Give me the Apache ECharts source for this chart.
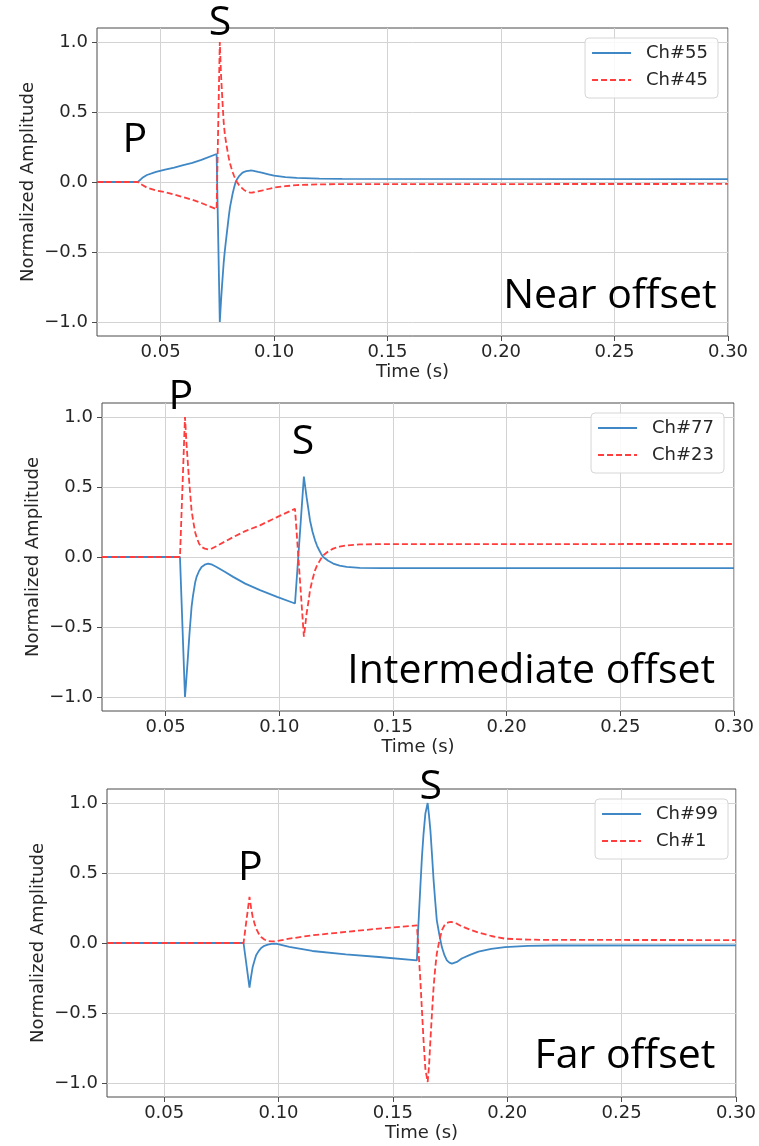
<!DOCTYPE html>
<html><head><meta charset="utf-8">
<script src="https://cdn.jsdelivr.net/npm/echarts@6/dist/echarts.min.js"></script>
<style>html,body{margin:0;padding:0;background:#fff}#c{width:759px;height:1146px}</style>
</head><body><div id="c"></div>
<script>
// ---------- Near offset ----------
const nearT = [0.022, 0.040, 0.042, 0.044, 0.048, 0.052, 0.056, 0.060, 0.064, 0.068, 0.0747, 0.0761, 0.0766, 0.0770, 0.0774, 0.0778, 0.0782, 0.0786, 0.0791, 0.0796, 0.0801, 0.0806, 0.0812, 0.0818, 0.0824, 0.0830, 0.0837, 0.0845, 0.0852, 0.0860, 0.0869, 0.0878, 0.0886, 0.0895, 0.0905, 0.0915, 0.0930, 0.0950, 0.0975, 0.100, 0.105, 0.110, 0.120, 0.130, 0.300];
const ch55 = [0, 0, 0.03, 0.05, 0.073, 0.088, 0.103, 0.12, 0.137, 0.158, 0.20, -1.0, -0.86, -0.76, -0.67, -0.58, -0.51, -0.45, -0.38, -0.31, -0.24, -0.18, -0.13, -0.08, -0.04, -0.005, 0.02, 0.04, 0.054, 0.065, 0.073, 0.078, 0.081, 0.082, 0.081, 0.078, 0.072, 0.065, 0.055, 0.045, 0.035, 0.029, 0.024, 0.022, 0.021];
const ch45 = [0, 0, -0.022, -0.04, -0.06, -0.073, -0.09, -0.108, -0.127, -0.15, -0.195, 1.0, 0.78, 0.66, 0.54, 0.43, 0.36, 0.31, 0.26, 0.21, 0.17, 0.133, 0.10, 0.07, 0.043, 0.02, -0.002, -0.02, -0.034, -0.045, -0.058, -0.068, -0.073, -0.076, -0.075, -0.072, -0.067, -0.06, -0.05, -0.04, -0.03, -0.022, -0.017, -0.015, -0.014];

// ---------- Intermediate offset ----------
const midT = [0.022, 0.0563, 0.0585, 0.0589, 0.0592, 0.0596, 0.0599, 0.0603, 0.0607, 0.0611, 0.0614, 0.0620, 0.0625, 0.0630, 0.0636, 0.0647, 0.0658, 0.0672, 0.0687, 0.0705, 0.0724, 0.076, 0.0797, 0.085, 0.0915, 0.099, 0.1069, 0.1108, 0.1114, 0.1120, 0.1128, 0.1135, 0.1146, 0.1157, 0.1166, 0.1175, 0.1184, 0.1193, 0.1215, 0.1237, 0.1265, 0.1296, 0.1354, 0.145, 0.300];
const ch77 = [0, 0, -1.0, -0.92, -0.85, -0.76, -0.688, -0.59, -0.50, -0.42, -0.356, -0.28, -0.23, -0.18, -0.142, -0.10, -0.071, -0.055, -0.047, -0.055, -0.071, -0.105, -0.142, -0.19, -0.237, -0.285, -0.332, 0.574, 0.50, 0.427, 0.34, 0.261, 0.18, 0.119, 0.08, 0.05, 0.022, 0.0, -0.027, -0.047, -0.062, -0.071, -0.078, -0.08, -0.08];
const ch23 = [0, 0, 1.0, 0.89, 0.80, 0.71, 0.64, 0.55, 0.47, 0.39, 0.332, 0.27, 0.22, 0.175, 0.142, 0.095, 0.071, 0.06, 0.055, 0.062, 0.078, 0.11, 0.142, 0.185, 0.226, 0.285, 0.344, -0.569, -0.49, -0.403, -0.32, -0.237, -0.16, -0.095, -0.06, -0.035, -0.01, 0.012, 0.04, 0.06, 0.074, 0.083, 0.09, 0.092, 0.093];

// ---------- Far offset ----------
const farT = [0.025, 0.0847, 0.0873, 0.0880, 0.0887, 0.0895, 0.0902, 0.0913, 0.0924, 0.0938, 0.0953, 0.0970, 0.0989, 0.1047, 0.1148, 0.1294, 0.1439, 0.1605, 0.1610, 0.1620, 0.1627, 0.1634, 0.1642, 0.1652, 0.1658, 0.1664, 0.1671, 0.1678, 0.1685, 0.1692, 0.1703, 0.1714, 0.1725, 0.1736, 0.1747, 0.1758, 0.1780, 0.1801, 0.1837, 0.1874, 0.1930, 0.1990, 0.2091, 0.220, 0.300];
const ch99 = [0, 0, -0.319, -0.24, -0.171, -0.125, -0.088, -0.058, -0.036, -0.02, -0.012, -0.006, -0.004, -0.028, -0.057, -0.081, -0.10, -0.124, 0.08, 0.40, 0.614, 0.78, 0.924, 1.0, 0.91, 0.805, 0.63, 0.448, 0.30, 0.162, 0.06, -0.029, -0.085, -0.124, -0.14, -0.147, -0.135, -0.111, -0.085, -0.062, -0.042, -0.029, -0.021, -0.018, -0.017];
const ch1 = [0, 0, 0.329, 0.25, 0.186, 0.14, 0.103, 0.068, 0.043, 0.025, 0.014, 0.012, 0.012, 0.031, 0.055, 0.079, 0.103, 0.126, 0.0, -0.266, -0.48, -0.695, -0.90, -0.993, -0.88, -0.695, -0.50, -0.314, -0.18, -0.076, 0.015, 0.09, 0.125, 0.143, 0.149, 0.15, 0.138, 0.119, 0.095, 0.075, 0.05, 0.031, 0.024, 0.022, 0.021];

// ---------- ticks / labels ----------
const xTicks = [0.05, 0.10, 0.15, 0.20, 0.25, 0.30];
const yTicks = [-1.0, -0.5, 0.0, 0.5, 1.0];
const xMins = [0.022, 0.022, 0.025];
const seriesNames = [['Ch#55', 'Ch#45'], ['Ch#77', 'Ch#23'], ['Ch#99', 'Ch#1']];
const panelTimes = [nearT, midT, farT];
const panelValues = [[ch55, ch45], [ch77, ch23], [ch99, ch1]];

// annotations (data coordinates)
const annoText = ['S', 'P', 'Near offset', 'P', 'S', 'Intermediate offset', 'P', 'S', 'Far offset'];
const annoGrid = [0, 0, 0, 1, 1, 1, 2, 2, 2];
const annoX = [0.0762, 0.0387, 0.2950, 0.0567, 0.1104, 0.2917, 0.0877, 0.1665, 0.2910];
const annoY = [1.13, 0.30, -0.82, 1.14, 0.82, -0.82, 0.53, 1.115, -0.81];
const annoAlign = ['center', 'center', 'right', 'center', 'center', 'right', 'center', 'center', 'right'];

const BLUE = '#3f88c5';
const RED = '#ff3d3d';
const TXT = '#262626';
const FONT = 'DejaVu Sans';

const grids = [
  {left: 97, top: 28, width: 631, height: 308},
  {left: 102, top: 403, width: 632, height: 308},
  {left: 107, top: 789, width: 632, height: 308}
];
const legendRight = [41, 35, 31];

const near = (v, arr) => arr.some(t => Math.abs(t - v) < 1e-6);
const fmtNum = (v, d) => { const s = Math.abs(v).toFixed(d); return v < -1e-9 ? '\u2212' + s : s; };

const option = {
  animation: false,
  backgroundColor: '#fff',
  grid: grids.map(g => Object.assign({show: true, borderColor: '#4a4a4a', borderWidth: 1, backgroundColor: 'transparent'}, g)),
  xAxis: grids.map((g, i) => ({
    type: 'value', gridIndex: i, min: xMins[i], max: 0.30, position: 'bottom',
    name: 'Time (s)', nameLocation: 'middle', nameGap: 27, nameMoveOverlap: false,
    nameTextStyle: {fontFamily: FONT, fontSize: 18, color: TXT},
    axisLine: {show: false, onZero: false},
    axisTick: {show: true, length: 5, inside: false, customValues: xTicks, lineStyle: {color: '#4a4a4a'}},
    axisLabel: {margin: 7, fontFamily: FONT, fontSize: 18, color: TXT, customValues: xTicks,
      formatter: v => near(v, xTicks) ? fmtNum(v, 2) : ''},
    splitLine: {show: true, lineStyle: {color: '#d3d3d3', width: 1}}
  })),
  yAxis: grids.map((g, i) => ({
    type: 'value', gridIndex: i, min: -1.1, max: 1.1, position: 'left',
    name: 'Normalized Amplitude', nameLocation: 'middle', nameGap: 60, nameMoveOverlap: false,
    nameTextStyle: {fontFamily: FONT, fontSize: 18, color: TXT},
    axisLine: {show: false, onZero: false},
    axisTick: {show: true, length: 5, inside: false, customValues: yTicks, lineStyle: {color: '#4a4a4a'}},
    axisLabel: {margin: 9, fontFamily: FONT, fontSize: 18, color: TXT, customValues: yTicks,
      formatter: v => near(v, yTicks) ? fmtNum(v, 1) : ''},
    splitLine: {show: true, lineStyle: {color: '#d3d3d3', width: 1}}
  })),
  legend: grids.map((g, i) => ({
    data: seriesNames[i], orient: 'vertical', right: legendRight[i], top: g.top + 10,
    itemWidth: 39, itemHeight: 14, itemGap: 9,
    padding: [6, 10, 9, 6],
    itemStyle: {opacity: 0},
    borderColor: '#d6d6d6', borderWidth: 1, borderRadius: 4, backgroundColor: 'rgba(255,255,255,0.85)',
    textStyle: {fontFamily: FONT, fontSize: 18, color: TXT, padding: [0, 0, 0, 10]}
  })),
  series: []
};

panelTimes.forEach((ts, i) => {
  [0, 1].forEach(k => {
    const vals = panelValues[i][k];
    option.series.push({
      name: seriesNames[i][k], type: 'line', xAxisIndex: i, yAxisIndex: i,
      data: ts.map((t, j) => [t, vals[j]]),
      symbol: 'none', showSymbol: false, smooth: false,
      lineStyle: {color: k === 0 ? BLUE : RED, width: 1.8, type: k === 0 ? 'solid' : [6, 3]},
      itemStyle: {color: k === 0 ? BLUE : RED},
      z: k === 0 ? 3 : 4
    });
  });
});

const chart = echarts.init(document.getElementById('c'), null, {renderer: 'canvas'});
chart.setOption(option);

const graphic = annoText.map((txt, i) => {
  const p = chart.convertToPixel({gridIndex: annoGrid[i]}, [annoX[i], annoY[i]]);
  return {
    type: 'text', x: p[0], y: p[1], z: 10,
    style: {text: txt, fill: '#000', font: '41px "Open Sans"', textAlign: annoAlign[i], textVerticalAlign: 'middle'}
  };
});
chart.setOption({graphic: graphic});
</script>
</body></html>
